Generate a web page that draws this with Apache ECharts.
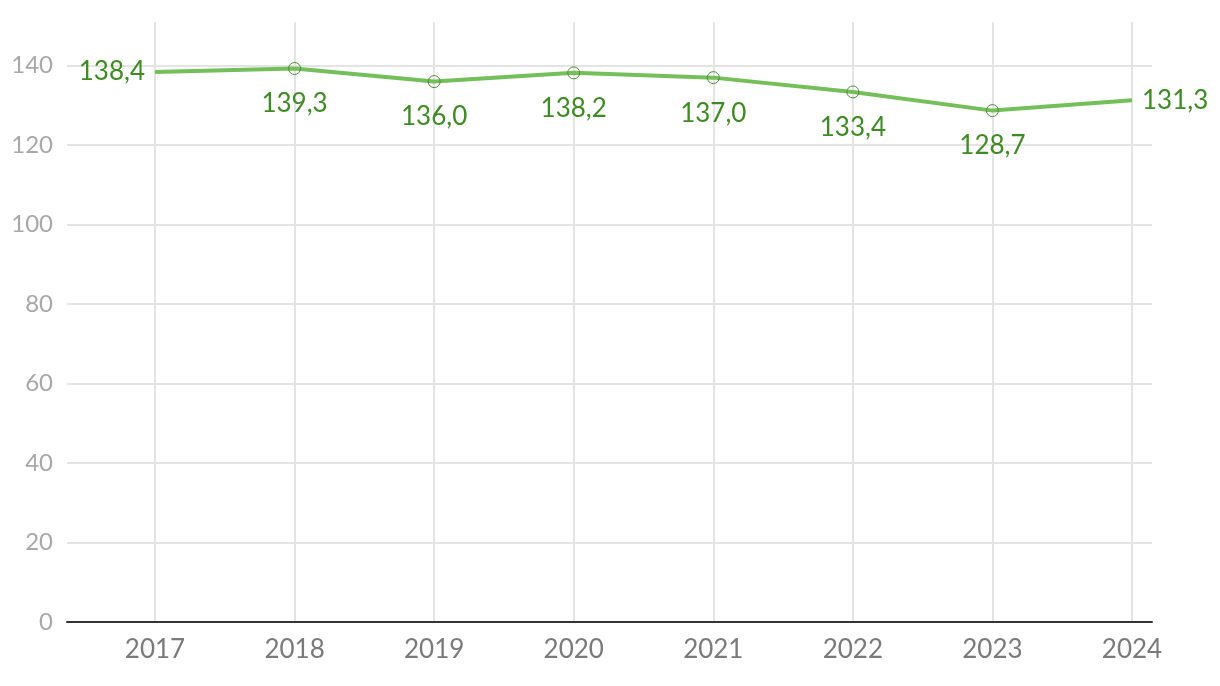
<!DOCTYPE html>
<html><head><meta charset="utf-8">
<script src="https://cdn.jsdelivr.net/npm/echarts@6/dist/echarts.min.js"></script>
<style>html,body{margin:0;padding:0;background:#fff}#c{width:1220px;height:686px}</style>
</head><body><div id="c"></div>
<script>
const categories = ['2017','2018','2019','2020','2021','2022','2023','2024'];
const values = [138.4, 139.3, 136.0, 138.2, 137.0, 133.4, 128.7, 131.3];
const yMin = 0, yMax = 151, yInterval = 20;
const FONT = 'Lato';

const data = values.map((v, i) => {
  const last = values.length - 1;
  const d = { value: v };
  if (i === 0) {
    d.itemStyle = { borderWidth: 0, borderColor: 'rgba(0,0,0,0)' };
    d.label = { position: 'left', distance: 4 };
  } else if (i === last) {
    d.itemStyle = { borderWidth: 0, borderColor: 'rgba(0,0,0,0)' };
    d.label = { position: 'right', distance: 4 };
  }
  return d;
});

const chart = echarts.init(document.getElementById('c'));
chart.setOption({
  animation: false,
  grid: [
    { left: 67, right: 68, top: 22, bottom: 64 },
    { left: 155, right: 88, top: 22, bottom: 64 }
  ],
  xAxis: [
    { gridIndex: 0, type: 'value', min: 0, max: 1, show: true,
      axisLine: { show: true, lineStyle: { color: '#333', width: 2 } },
      axisTick: { show: false }, axisLabel: { show: false }, splitLine: { show: false } },
    { gridIndex: 1, type: 'category', data: categories, boundaryGap: false,
      axisLine: { show: false }, axisTick: { show: false },
      axisLabel: { color: '#7a7a7a', fontFamily: FONT, fontSize: 26, margin: 15 },
      splitLine: { show: true, lineStyle: { color: '#e4e4e4', width: 2 } } }
  ],
  yAxis: [
    { gridIndex: 0, type: 'value', min: yMin, max: yMax, interval: yInterval,
      axisLine: { show: false }, axisTick: { show: false },
      axisLabel: { color: '#a8a8a8', fontFamily: FONT, fontSize: 24, margin: 14, showMaxLabel: false },
      splitLine: { show: true, showMaxLine: false, lineStyle: { color: '#e4e4e4', width: 2 } } },
    { gridIndex: 1, type: 'value', min: yMin, max: yMax, interval: yInterval, show: false,
      splitLine: { show: false } }
  ],
  series: [{
    type: 'line', xAxisIndex: 1, yAxisIndex: 1, data: data,
    symbol: 'circle', symbolSize: 12, showSymbol: true,
    lineStyle: { color: '#74bf5a', width: 4 },
    itemStyle: { color: 'rgba(255,255,255,0)', borderColor: '#4a8f30', borderWidth: 1 },
    label: {
      show: true, position: 'bottom', distance: 16,
      color: '#3d8b22', fontFamily: FONT, fontSize: 26,
      formatter: p => p.value.toFixed(1).replace('.', ',')
    },
    z: 5
  }]
});
</script></body></html>
